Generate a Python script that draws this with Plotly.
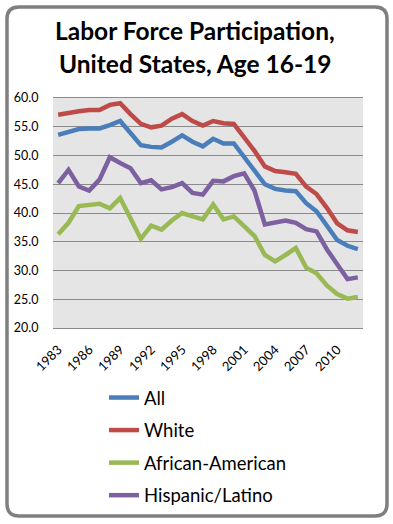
import plotly.graph_objects as go

years = list(range(1983, 2013))
all_vals = [53.6, 54.2, 54.6, 54.7, 54.7, 55.3, 56.0, 53.9, 51.8, 51.5,
            51.4, 52.4, 53.5, 52.4, 51.6, 52.9, 52.1, 52.1, 49.8, 47.6,
            45.0, 44.2, 43.9, 43.8, 41.7, 40.3, 37.7, 35.3, 34.3, 33.7]
white_vals = [57.1, 57.5, 57.7, 57.9, 57.9, 58.8, 59.1, 57.2, 55.5, 54.9,
              55.2, 56.4, 57.2, 56.0, 55.2, 56.0, 55.6, 55.5, 53.3, 50.8,
              48.1, 47.3, 47.1, 46.8, 44.6, 43.3, 40.9, 38.2, 37.0, 36.7]
black_vals = [36.3, 38.3, 41.2, 41.4, 41.6, 40.8, 42.6, 39.1, 35.5, 37.8,
              37.1, 38.7, 40.0, 39.4, 38.9, 41.5, 38.9, 39.4, 37.7, 36.0,
              32.7, 31.6, 32.7, 33.9, 30.5, 29.5, 27.4, 25.9, 25.1, 25.4]
hisp_vals = [45.2, 47.5, 44.6, 43.9, 45.8, 49.7, 48.7, 47.8, 45.2, 45.7,
             44.1, 44.5, 45.2, 43.5, 43.2, 45.6, 45.5, 46.4, 46.9, 43.9,
             38.0, 38.3, 38.7, 38.3, 37.2, 36.8, 33.7, 31.1, 28.5, 28.8]
series_names = ["All", "White", "African-American", "Hispanic/Latino"]
series_values = [all_vals, white_vals, black_vals, hisp_vals]
colors = ["#4a7ebb", "#be4b48", "#98b954", "#7d60a0"]
tick_years = list(range(1983, 2011, 3))
y_ticks = [20, 25, 30, 35, 40, 45, 50, 55, 60]

W, H = 393, 524
L, R, T, B = 53, 30, 98, 196
pw, ph = W - L - R, H - T - B

def px2paper(x, y):
    return (x - L) / pw, (H - B - y) / ph

fig = go.Figure()
for i, (name, vals, col) in enumerate(zip(series_names, series_values, colors)):
    fig.add_trace(go.Scatter(x=years, y=vals, mode="lines", name=name,
                             legendgroup=name,
                             line=dict(color=col, width=4.5)))

# rounded frame
x0, y0, x1, y1, r = 7, 7, 387, 516, 12
def P(x, y):
    a, b = px2paper(x, y)
    return f"{a:.5f},{b:.5f}"
path = (f"M {P(x0 + r, y0)} L {P(x1 - r, y0)} Q {P(x1, y0)} {P(x1, y0 + r)} "
        f"L {P(x1, y1 - r)} Q {P(x1, y1)} {P(x1 - r, y1)} "
        f"L {P(x0 + r, y1)} Q {P(x0, y1)} {P(x0, y1 - r)} "
        f"L {P(x0, y0 + r)} Q {P(x0, y0)} {P(x0 + r, y0)} Z")
fig.add_shape(type="path", path=path, xref="paper", yref="paper",
              line=dict(color="#7f7f7f", width=3.5), layer="below")

title_font = dict(family="Lato, Carlito, Arial", size=24.5, color="#000000")
for txt, py in [("<b>Labor Force Participation,</b>", 47),
                ("<b>United States, Age 16-19</b>", 80)]:
    xa, ya = px2paper(195, py)
    fig.add_annotation(text=txt, x=xa, y=ya, xref="paper", yref="paper",
                       xanchor="center", yanchor="bottom", showarrow=False,
                       font=title_font)

lx, ly = px2paper(104, 379)
fig.update_layout(
    width=W, height=H,
    margin=dict(l=L, r=R, t=T, b=B, autoexpand=False),
    paper_bgcolor="white",
    plot_bgcolor="#e5e5e5",
    font=dict(family="Lato, Carlito, Arial", size=12, color="#000000"),
    showlegend=True,
    legend=dict(x=lx, y=ly, xanchor="left", yanchor="top",
                orientation="v", tracegroupgap=5.5,
                font=dict(size=18.5, color="#000000"),
                bgcolor="rgba(0,0,0,0)"),
    xaxis=dict(range=[1982.5, 2012.5], tickmode="array",
               tickvals=tick_years, ticktext=[str(t) for t in tick_years],
               tickangle=-45, showgrid=False, zeroline=False,
               showline=True, linecolor="#8a8a8a", linewidth=1, mirror=True,
               ticks="outside", ticklen=8, tickcolor="rgba(0,0,0,0)",
               tickfont=dict(size=13)),
    yaxis=dict(range=[20, 60], tickmode="array", tickvals=y_ticks,
               tickformat=".1f", showgrid=True, gridcolor="#8a8a8a",
               gridwidth=1, zeroline=False, showline=False,
               ticks="outside", ticklen=11, tickcolor="rgba(0,0,0,0)",
               tickfont=dict(size=12.5)),
)
fig.write_html("out.html",
               config={"displayModeBar": False},
               post_script="document.body.style.margin='0';"
                           "document.body.style.overflow='hidden';")
